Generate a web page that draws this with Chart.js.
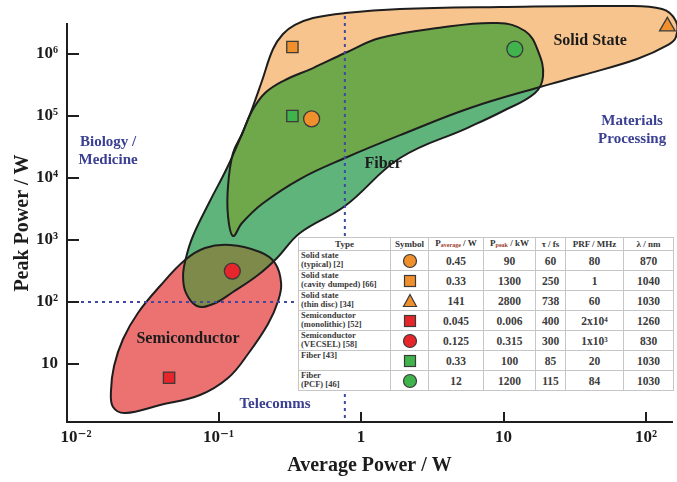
<!DOCTYPE html>
<html><head><meta charset="utf-8">
<script src="https://cdn.jsdelivr.net/npm/chart.js@4.4.1/dist/chart.umd.min.js"></script>
<style>
html,body{margin:0;padding:0;background:#fff;}
#wrap{position:relative;width:677px;height:482px;}
#tbl{position:absolute;left:298px;top:237px;width:375px;border-collapse:collapse;background:#fff;
 font-family:"Liberation Serif","DejaVu Serif",serif;font-weight:bold;color:#3c3c3c;table-layout:fixed;}
#tbl td,#tbl th{border:1px solid #c6c6c6;padding:0;text-align:center;vertical-align:middle;overflow:hidden;white-space:nowrap;}
#tbl th{font-size:9px;height:12px;line-height:11px;color:#333;}
#tbl th sub{font-size:6px;vertical-align:baseline;position:relative;top:1px;color:#9c3d2c;}
#tbl td{font-size:11.5px;height:19px;}
#tbl td.type{text-align:left;vertical-align:top;font-size:8.5px;line-height:9px;padding-left:2px;color:#3a3a3a;}
#tbl td.sym svg{display:block;margin:0 auto;}
</style></head><body>
<div id="wrap"><canvas id="c" width="677" height="482"></canvas><table id="tbl"></table></div>
<script>
// ---- axis ticks ----
const xTickValues = [0.01, 0.1, 1, 10, 100];
const xTickLabels = ['10⁻²', '10⁻¹', '1', '10', '10²'];
const yTickValues = [10, 100, 1000, 1e4, 1e5, 1e6];
const yTickLabels = ['10', '10²', '10³', '10⁴', '10⁵', '10⁶'];

// ---- laser data (table + markers) ----
const laserTypes = [['Solid state','(typical) [2]'], ['Solid state','(cavity dumped) [66]'], ['Solid state','(thin disc) [34]'],
  ['Semiconductor','(monolithic) [52]'], ['Semiconductor','(VECSEL) [58]'], ['Fiber [43]'], ['Fiber','(PCF) [46]']];
const pAverageW = [0.45, 0.33, 141, 0.045, 0.125, 0.33, 12];
const pPeakKW = [90, 1300, 2800, 0.006, 0.315, 100, 1200];
const pPeakLabels = ['90', '1300', '2800', '0.006', '0.315', '100', '1200'];
const pulseFs = [60, 250, 738, 400, 300, 85, 115];
const prfMHz = ['80', '1', '60', '2x10⁴', '1x10³', '20', '84'];
const wavelengthNm = [870, 1040, 1030, 1260, 830, 1030, 1030];
const symbolShapes = ['circle', 'rect', 'triangle', 'rect', 'circle', 'rect', 'circle'];
const symbolGroups = ['solid', 'solid', 'solid', 'semi', 'semi', 'fiber', 'fiber'];

// ---- region outlines [average power W, peak power W] ----
const solidStateOutline = [[0.1264,1161],[0.1166,2438],[0.1166,7430],[0.1264,25300],[0.1462,51290],[0.1718,129700],
  [0.2018,367000],[0.2413,1.205e6],[0.2835,2.1e6],[0.344,2.94e6],[0.4605,3.81e6],[0.772,4.58e6],[1.878,5.32e6],
  [9.45,5.73e6],[65.7,5.94e6],[129.5,5.32e6],[162,3.4e6],[162,1.88e6],[142.6,1.4e6],[86.5,8.3e5],[36.1,4.58e5],
  [18.03,2.94e5],[5.82,1.346e5],[1.971,51290],[0.772,21030],[0.373,9640],[0.2018,3810],[0.1462,1880]];
const fiberOutline = [[0.0706,86.1],[0.0591,140],[0.0564,262],[0.0591,513],[0.0662,1161],[0.0871,4256],[0.1147,14490],
  [0.1462,51290],[0.1718,120500],[0.212,235000],[0.2835,367000],[0.4605,594000],[0.772,1.038e6],[1.359,1.81e6],
  [3.415,2.62e6],[9.0,3.16e6],[14.15,2.35e6],[17.47,1.118e6],[18.93,441600],[16.63,235000],[9.92,120500],
  [5.546,64000],[1.878,21030],[0.772,3532],[0.373,1297],[0.2574,513],[0.1893,272],[0.1264,145],[0.0915,92.9]];
const semiconductorOutline = [[0.1205,830],[0.1955,640],[0.249,426],[0.275,202],[0.262,104],[0.2225,44.2],[0.161,14.5],
  [0.1166,5.94],[0.0741,3.16],[0.0389,2.18],[0.0221,1.62],[0.0182,2.02],[0.0176,3.67],[0.0185,9.29],[0.0214,25.3],
  [0.0272,66.5],[0.0389,181],[0.0582,475],[0.0804,743]];

// ---- reference lines and labels ----
const telecomAvgPowerW = 0.77;
const telecomPeakPowerW = 100;
const regionLabels = [{text:'Solid State', x:40.5, y:1.62e6}, {text:'Fiber', x:1.43, y:16800}, {text:'Semiconductor', x:0.0611, y:25.3}];
const applicationLabels = [{lines:['Biology /','Medicine'], x:0.0168, y:27200}, {lines:['Materials','Processing'], x:79.8, y:59400},
  {lines:['Telecomms'], x:0.249, y:2.26}];

const colors = {solid:'#f7c48d', fiber:'#5fb47c', semi:'#ec7272', solidFiber:'#6fa74b', semiFiber:'#7e8a49'};
const markerColors = {solid:'#f0902c', semi:'#e6262a', fiber:'#40b34c'};
const SERIF = '"Liberation Serif","DejaVu Serif",serif';

// ---- table ----
(function buildTable(){
  const colW = [92, 38, 55, 52, 30, 58, 50];
  function sym(shape, color){
    if (shape === 'circle') return `<svg width="16" height="16"><circle cx="8" cy="8" r="6.5" fill="${color}" stroke="#3a3a3a" stroke-width="1.2"/></svg>`;
    if (shape === 'rect') return `<svg width="14" height="14"><rect x="1.5" y="1.5" width="11" height="11" fill="${color}" stroke="#3a3a3a" stroke-width="1.2"/></svg>`;
    return `<svg width="16" height="15"><polygon points="8,1.5 14.5,13.5 1.5,13.5" fill="${color}" stroke="#3a3a3a" stroke-width="1.2"/></svg>`;
  }
  let h = '<colgroup>' + colW.map(w => `<col style="width:${w}px">`).join('') + '</colgroup>';
  h += '<tr><th>Type</th><th>Symbol</th><th>P<sub>average</sub> / W</th><th>P<sub>peak</sub> / kW</th><th>τ / fs</th><th>PRF / MHz</th><th>λ / nm</th></tr>';
  laserTypes.forEach((t, i) => {
    h += `<tr><td class="type">${t.join('<br>')}</td><td class="sym">${sym(symbolShapes[i], markerColors[symbolGroups[i]])}</td>` +
      `<td>${pAverageW[i]}</td><td>${pPeakLabels[i]}</td><td>${pulseFs[i]}</td><td>${prfMHz[i]}</td><td>${wavelengthNm[i]}</td></tr>`;
  });
  document.getElementById('tbl').innerHTML = h;
})();

const REGION = {solid:0, semi:1, fiber:2};

const regionPlugin = {
  id: 'regions',
  beforeDatasetsDraw(chart){
    const ctx = chart.ctx;
    const xs = chart.scales.x, ys = chart.scales.y;
    Object.values(REGION).forEach(i => {
      const el = chart.getDatasetMeta(i).dataset;
      el._loop = true; el._fullLoop = true; el._pointsUpdated = false; el._segments = undefined; el._path = undefined;
      el.updateControlPoints(chart.chartArea, 'x');
    });
    const trace = (i) => { ctx.beginPath(); chart.getDatasetMeta(i).dataset.path(ctx); ctx.closePath(); };
    ctx.save();
    trace(REGION.solid); ctx.fillStyle = colors.solid; ctx.fill();
    trace(REGION.semi); ctx.fillStyle = colors.semi; ctx.fill();
    trace(REGION.fiber); ctx.fillStyle = colors.fiber; ctx.fill();
    ctx.save();
    trace(REGION.fiber); ctx.clip();
    trace(REGION.solid); ctx.fillStyle = colors.solidFiber; ctx.fill();
    trace(REGION.semi); ctx.fillStyle = colors.semiFiber; ctx.fill();
    ctx.restore();
    ctx.lineWidth = 2; ctx.strokeStyle = '#1e1e1e'; ctx.lineJoin = 'round';
    [REGION.solid, REGION.semi, REGION.fiber].forEach(i => { trace(i); ctx.stroke(); });
    // dashed reference lines
    ctx.setLineDash([3, 4]); ctx.lineWidth = 2; ctx.strokeStyle = '#4048a0';
    const vx = xs.getPixelForValue(telecomAvgPowerW);
    ctx.beginPath(); ctx.moveTo(vx, ys.getPixelForValue(4.1e6)); ctx.lineTo(vx, chart.chartArea.bottom); ctx.stroke();
    const hy = ys.getPixelForValue(telecomPeakPowerW);
    ctx.beginPath(); ctx.moveTo(chart.chartArea.left, hy); ctx.lineTo(vx, hy); ctx.stroke();
    ctx.restore();
  },
  afterDatasetsDraw(chart){
    const ctx = chart.ctx;
    const xs = chart.scales.x, ys = chart.scales.y, a = chart.chartArea;
    ctx.save();
    // inward tick marks
    ctx.strokeStyle = '#1e1e1e'; ctx.lineWidth = 2;
    yTickValues.forEach(v => { const y = Math.round(ys.getPixelForValue(v)); ctx.beginPath(); ctx.moveTo(a.left, y); ctx.lineTo(a.left + 12, y); ctx.stroke(); });
    xTickValues.slice(1).forEach(v => { const x = Math.round(xs.getPixelForValue(v)); ctx.beginPath(); ctx.moveTo(x, a.bottom); ctx.lineTo(x, a.bottom - 10); ctx.stroke(); });
    // labels
    ctx.textAlign = 'center'; ctx.textBaseline = 'middle';
    ctx.fillStyle = '#1c1c1c'; ctx.font = 'bold 16px ' + SERIF;
    regionLabels.forEach(l => ctx.fillText(l.text, xs.getPixelForValue(l.x), ys.getPixelForValue(l.y)));
    ctx.fillStyle = '#3a3f92'; ctx.font = 'bold 15px ' + SERIF;
    applicationLabels.forEach(l => {
      const cx = xs.getPixelForValue(l.x), cy = ys.getPixelForValue(l.y);
      l.lines.forEach((t, k) => ctx.fillText(t, cx, cy + (k - (l.lines.length - 1) / 2) * 18));
    });
    ctx.restore();
  }
};

const regionDataset = (label, outline, order) => ({
  label, data: outline.map(([x, y]) => ({x, y})), showLine: true, tension: 0.4, capBezierPoints: false,
  borderColor: 'transparent', backgroundColor: 'transparent', borderWidth: 1, pointRadius: 0, pointHoverRadius: 0,
  fill: false, clip: false, order
});

new Chart(document.getElementById('c'), {
  type: 'scatter',
  data: {
    datasets: [
      regionDataset('Solid State', solidStateOutline, 10),
      regionDataset('Semiconductor', semiconductorOutline, 9),
      regionDataset('Fiber', fiberOutline, 8),
      {
        label: 'Lasers',
        data: pAverageW.map((x, i) => ({x, y: pPeakKW[i] * 1000})),
        pointStyle: symbolShapes,
        pointRadius: symbolShapes.map(s => s === 'triangle' ? 9 : 8),
        pointBackgroundColor: symbolGroups.map(g => markerColors[g]),
        pointBorderColor: '#3a3a3a', pointBorderWidth: 1.3,
        showLine: false, clip: false, order: 1
      }
    ]
  },
  options: {
    responsive: false, animation: false, devicePixelRatio: 1, events: [],
    layout: {autoPadding: false, padding: {top: 24, right: 5, left: 0, bottom: 0}},
    plugins: {legend: {display: false}, tooltip: {enabled: false}},
    scales: {
      x: {
        type: 'logarithmic', min: 0.00865, max: 152,
        afterBuildTicks: s => { s.ticks = xTickValues.map(v => ({value: v})); },
        afterFit: s => { s.height = 60; },
        grid: {display: false, drawTicks: false},
        border: {display: true, color: '#1e1e1e', width: 2},
        ticks: {autoSkip: false, maxRotation: 0, padding: 5, color: '#1c1c1c', font: {family: SERIF, size: 17, weight: 'bold'},
          callback: (v) => xTickLabels[xTickValues.indexOf(v)] ?? ''},
        title: {display: true, text: 'Average Power / W', color: '#1c1c1c', font: {family: SERIF, size: 20, weight: 'bold'}, padding: {top: 0, bottom: 4}}
      },
      y: {
        type: 'logarithmic', min: 1.16, max: 3.05e6,
        afterBuildTicks: s => { s.ticks = yTickValues.map(v => ({value: v})); },
        afterFit: s => { s.width = 67; },
        grid: {display: false, drawTicks: false},
        border: {display: true, color: '#1e1e1e', width: 2},
        ticks: {autoSkip: false, padding: 9, color: '#1c1c1c', font: {family: SERIF, size: 17, weight: 'bold'},
          callback: (v) => yTickLabels[yTickValues.indexOf(v)] ?? ''},
        title: {display: true, text: 'Peak Power / W', color: '#1c1c1c', font: {family: SERIF, size: 20, weight: 'bold'}, padding: {top: 11, bottom: 0}}
      }
    }
  },
  plugins: [regionPlugin]
});
</script>
</body></html>
